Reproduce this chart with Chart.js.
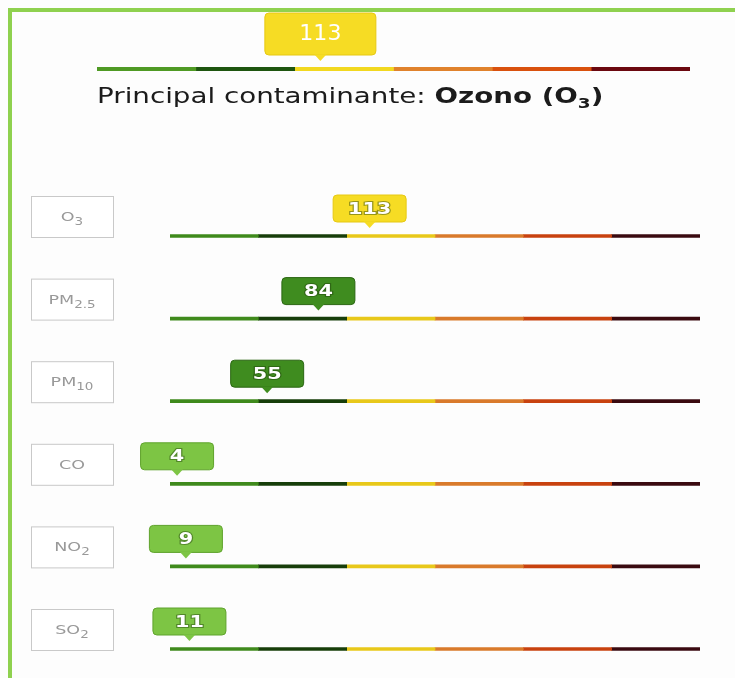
<!DOCTYPE html>
<html>
<head>
<meta charset="utf-8">
<script src="https://cdn.jsdelivr.net/npm/chart.js@4.4.1/dist/chart.umd.min.js"></script>
<style>
  html, body { margin: 0; padding: 0; background: #fdfdfd; width: 735px; height: 678px; overflow: hidden; }
  #frame { position: absolute; left: 8px; top: 8px; width: 727px; height: 670px; border-top: 4px solid #8fd14f; border-left: 4px solid #8fd14f; }
  #topChart, #mainChart { position: absolute; left: 0; top: 0; }
  #title { position: absolute; left: 97px; top: 84px; font: 21px 'DejaVu Sans', sans-serif; color: #1b1b1b; white-space: nowrap; transform: scaleX(1.32); transform-origin: 0 0; }
  #title b sub { font-size: 14px; }
</style>
</head>
<body>
<div id="frame"></div>
<canvas id="mainChart" width="735" height="700"></canvas>
<canvas id="topChart" width="735" height="80"></canvas>
<div id="title">Principal contaminante: <b>Ozono (O<sub>3</sub>)</b></div>
<script>
// contaminantes y su índice
const pollutants = ['O3', 'PM2.5', 'PM10', 'CO', 'NO2', 'SO2'];
const labelMain = ['O', 'PM', 'PM', 'CO', 'NO', 'SO'];
const labelSub = ['3', '2.5', '10', '', '2', '2'];
const aqiValues = [113, 84, 55, 4, 9, 11];
const mainAqi = 113;

// bandas de la escala (cada una 50 de ancho)
const bandWidth = [50, 50, 50, 50, 50, 50];
const scaleMax = 300;
const bandColors = ['#3f8a1c', '#173e0a', '#e8c81a', '#d97a2b', '#c8420f', '#3a0a10'];
const topBandColors = ['#4f9a24', '#1e5510', '#f2d820', '#e0822c', '#d9510e', '#6b0810'];
const markerFill = ['#7dc544', '#3f8c1f', '#f6dc24', '#e0822c', '#d9510e', '#6b0810'];
const markerEdge = ['#5fa32c', '#2a6612', '#e6c812', '#c06a1c', '#b03e08', '#4a0408'];

function bandIndex(v) {
  let acc = 0;
  for (let i = 0; i < bandWidth.length; i++) {
    acc += bandWidth[i];
    if (v <= acc) return i;
  }
  return bandWidth.length - 1;
}

function roundRect(ctx, x, y, w, h, r) {
  ctx.beginPath();
  ctx.moveTo(x + r, y);
  ctx.lineTo(x + w - r, y);
  ctx.quadraticCurveTo(x + w, y, x + w, y + r);
  ctx.lineTo(x + w, y + h - r);
  ctx.quadraticCurveTo(x + w, y + h, x + w - r, y + h);
  ctx.lineTo(x + r, y + h);
  ctx.quadraticCurveTo(x, y + h, x, y + h - r);
  ctx.lineTo(x, y + r);
  ctx.quadraticCurveTo(x, y, x + r, y);
  ctx.closePath();
}

// texto ensanchado (la fuente original es extendida)
function wideText(ctx, txt, x, y, sx, stroke) {
  ctx.save();
  ctx.translate(x, y);
  ctx.scale(sx, 1);
  if (stroke) ctx.strokeText(txt, 0, 0);
  ctx.fillText(txt, 0, 0);
  ctx.restore();
}

// globo con el valor, apuntando a la barra
function drawMarker(ctx, x, y, value, w, h, font, bold, sx) {
  const b = bandIndex(value);
  const top = y - 14 - h;
  ctx.save();
  ctx.fillStyle = markerFill[b];
  ctx.strokeStyle = markerEdge[b];
  ctx.lineWidth = 1;
  roundRect(ctx, x - w / 2, top, w, h, 4);
  ctx.fill();
  ctx.stroke();
  ctx.beginPath();
  ctx.moveTo(x - 6, y - 14.5);
  ctx.lineTo(x, y - 8);
  ctx.lineTo(x + 6, y - 14.5);
  ctx.closePath();
  ctx.fill();
  ctx.font = font;
  ctx.textAlign = 'center';
  ctx.textBaseline = 'middle';
  ctx.lineWidth = 2;
  ctx.strokeStyle = 'rgba(30,60,10,0.45)';
  ctx.fillStyle = '#ffffff';
  wideText(ctx, String(value), x, top + h / 2 + 1, sx, bold);
  ctx.restore();
}

function bandDatasets(colors, n, thick) {
  return bandWidth.map((w, i) => ({
    label: 'banda ' + (i + 1),
    data: new Array(n).fill(w),
    backgroundColor: colors[i],
    borderWidth: 0,
    barThickness: thick,
    stack: 'escala'
  }));
}

const hiddenScales = {
  x: { stacked: true, min: 0, max: scaleMax, display: false, grid: { display: false } },
  y: { stacked: true, display: false, grid: { display: false } }
};

// barra superior con el índice principal
new Chart(document.getElementById('topChart'), {
  type: 'bar',
  data: { labels: ['AQI'], datasets: bandDatasets(topBandColors, 1, 4) },
  options: {
    indexAxis: 'y',
    responsive: false,
    animation: false,
    layout: { padding: { left: 97, right: 45, top: 67, bottom: 9 } },
    scales: hiddenScales,
    plugins: { legend: { display: false }, tooltip: { enabled: false } }
  },
  plugins: [{
    id: 'topMarker',
    afterDatasetsDraw(chart) {
      const x = chart.scales.x.getPixelForValue(mainAqi);
      const y = chart.scales.y.getPixelForValue(0);
      drawMarker(chart.ctx, x, y, mainAqi, 111, 42, '21px "DejaVu Sans"', false, 1.05);
    }
  }]
});

// filas por contaminante
new Chart(document.getElementById('mainChart'), {
  type: 'bar',
  data: { labels: pollutants, datasets: bandDatasets(bandColors, pollutants.length, 3) },
  options: {
    indexAxis: 'y',
    responsive: false,
    animation: false,
    layout: { padding: { left: 170, right: 35, top: 194.7, bottom: 9.7 } },
    scales: hiddenScales,
    plugins: { legend: { display: false }, tooltip: { enabled: false } }
  },
  plugins: [{
    id: 'rowDecor',
    afterDatasetsDraw(chart) {
      const ctx = chart.ctx;
      const ys = chart.scales.y;
      const xs = chart.scales.x;
      const sx = 1.35;
      pollutants.forEach((p, i) => {
        const y = ys.getPixelForValue(i);
        // caja con el nombre
        ctx.save();
        ctx.fillStyle = '#ffffff';
        ctx.strokeStyle = '#c9c9c9';
        ctx.lineWidth = 1;
        ctx.fillRect(31.5, y - 39.5, 82, 41);
        ctx.strokeRect(31.5, y - 39.5, 82, 41);
        ctx.fillStyle = '#999999';
        ctx.textBaseline = 'alphabetic';
        ctx.textAlign = 'left';
        ctx.font = '13px "DejaVu Sans"';
        const mw = ctx.measureText(labelMain[i]).width * sx;
        ctx.font = '10px "DejaVu Sans"';
        const sw = ctx.measureText(labelSub[i]).width * sx;
        const x0 = 72 - (mw + sw) / 2;
        ctx.font = '13px "DejaVu Sans"';
        wideText(ctx, labelMain[i], x0, y - 15, sx, false);
        ctx.font = '10px "DejaVu Sans"';
        wideText(ctx, labelSub[i], x0 + mw, y - 11, sx, false);
        ctx.restore();

        drawMarker(ctx, xs.getPixelForValue(aqiValues[i]), y, aqiValues[i], 73, 27, 'bold 16px "DejaVu Sans"', true, 1.3);
      });
    }
  }]
});
</script>
</body>
</html>
